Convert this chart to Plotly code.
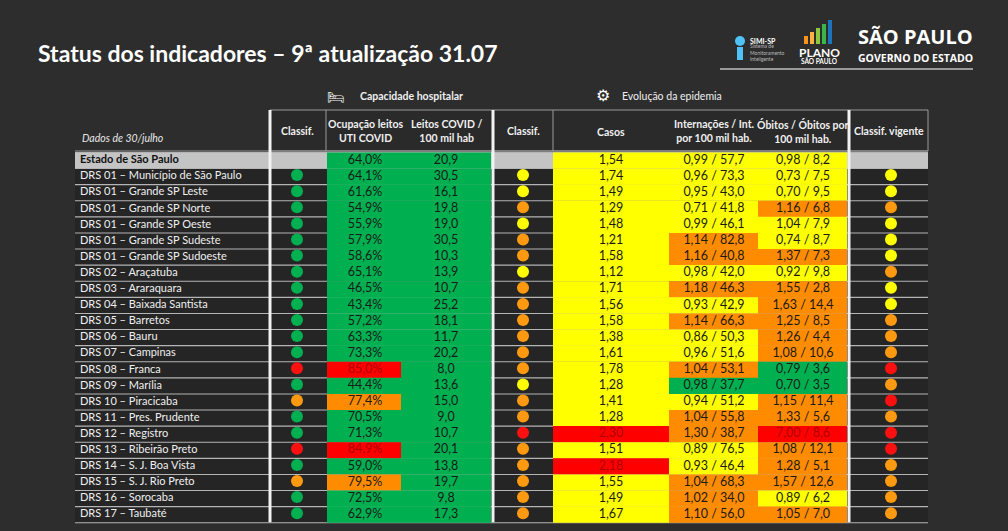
import plotly.graph_objects as go

# ---- data -------------------------------------------------------------
regioes = ['Estado de São Paulo', 'DRS 01 – Município de São Paulo', 'DRS 01 – Grande SP Leste',
           'DRS 01 – Grande SP Norte', 'DRS 01 – Grande SP Oeste', 'DRS 01 – Grande SP Sudeste',
           'DRS 01 – Grande SP Sudoeste', 'DRS 02 – Araçatuba', 'DRS 03 – Araraquara',
           'DRS 04 – Baixada Santista', 'DRS 05 – Barretos', 'DRS 06 – Bauru', 'DRS 07 – Campinas',
           'DRS 08 – Franca', 'DRS 09 – Marília', 'DRS 10 – Piracicaba', 'DRS 11 – Pres. Prudente',
           'DRS 12 – Registro', 'DRS 13 – Ribeirão Preto', 'DRS 14 – S. J. Boa Vista',
           'DRS 15 – S. J. Rio Preto', 'DRS 16 – Sorocaba', 'DRS 17 – Taubaté']
classif_hosp = ['', 'G', 'G', 'G', 'G', 'G', 'G', 'G', 'G', 'G', 'G', 'G', 'G',
                'R', 'G', 'O', 'G', 'G', 'R', 'G', 'O', 'G', 'G']
ocupacao = ['64,0%', '64,1%', '61,6%', '54,9%', '55,9%', '57,9%', '58,6%', '65,1%', '46,5%', '43,4%',
            '57,2%', '63,3%', '73,3%', '85,0%', '44,4%', '77,4%', '70,5%', '71,3%', '84,9%', '59,0%',
            '79,5%', '72,5%', '62,9%']
ocupacao_cor = ['G'] * 13 + ['R', 'G', 'O', 'G', 'G', 'R', 'G', 'O', 'G', 'G']
leitos = ['20,9', '30,5', '16,1', '19,8', '19,0', '30,5', '10,3', '13,9', '10,7', '25,2', '18,1',
          '11,7', '20,2', '8,0', '13,6', '15,0', '9,0', '10,7', '20,1', '13,8', '19,7', '9,8', '17,3']
leitos_cor = ['G'] * 23
classif_epid = ['', 'Y', 'Y', 'O', 'Y', 'O', 'O', 'Y', 'O', 'O', 'O', 'O', 'O',
                'O', 'Y', 'O', 'O', 'R', 'O', 'O', 'O', 'O', 'O']
casos = ['1,54', '1,74', '1,49', '1,29', '1,48', '1,21', '1,58', '1,12', '1,71', '1,56', '1,58',
         '1,38', '1,61', '1,78', '1,28', '1,41', '1,28', '2,30', '1,51', '2,18', '1,55', '1,49', '1,67']
casos_cor = ['Y'] * 17 + ['R', 'Y', 'R', 'Y', 'Y', 'Y']
internacoes = ['0,99 / 57,7', '0,96 / 73,3', '0,95 / 43,0', '0,71 / 41,8', '0,99 / 46,1',
               '1,14 / 82,8', '1,16 / 40,8', '0,98 / 42,0', '1,18 / 46,3', '0,93 / 42,9',
               '1,14 / 66,3', '0,86 / 50,3', '0,96 / 51,6', '1,04 / 53,1', '0,98 / 37,7',
               '0,94 / 51,2', '1,04 / 55,8', '1,30 / 38,7', '0,89 / 76,5', '0,93 / 46,4',
               '1,04 / 68,3', '1,02 / 34,0', '1,10 / 56,0']
internacoes_cor = ['Y', 'Y', 'Y', 'Y', 'Y', 'O', 'O', 'Y', 'O', 'Y', 'O', 'Y', 'Y',
                   'O', 'G', 'Y', 'O', 'O', 'Y', 'Y', 'O', 'O', 'O']
obitos = ['0,98 / 8,2', '0,73 / 7,5', '0,70 / 9,5', '1,16 / 6,8', '1,04 / 7,9', '0,74 / 8,7',
          '1,37 / 7,3', '0,92 / 9,8', '1,55 / 2,8', '1,63 / 14,4', '1,25 / 8,5', '1,26 / 4,4',
          '1,08 / 10,6', '0,79 / 3,6', '0,70 / 3,5', '1,15 / 11,4', '1,33 / 5,6', '7,00 / 8,6',
          '1,08 / 12,1', '1,28 / 5,1', '1,57 / 12,6', '0,89 / 6,2', '1,05 / 7,0']
obitos_cor = ['Y', 'Y', 'Y', 'O', 'Y', 'Y', 'O', 'Y', 'O', 'O', 'O', 'O', 'O',
              'G', 'G', 'O', 'O', 'R', 'O', 'O', 'O', 'Y', 'O']
classif_vigente = ['', 'Y', 'Y', 'O', 'Y', 'Y', 'Y', 'O', 'Y', 'Y', 'O', 'O', 'O',
                   'R', 'O', 'R', 'O', 'R', 'R', 'O', 'O', 'O', 'O']

# ---- style ------------------------------------------------------------
FILL = {'G': '#00b050', 'Y': '#ffff00', 'O': '#ff8c00', 'R': '#ff0000'}
DOT = {'G': '#00b050', 'Y': '#ffff00', 'O': '#ff9a10', 'R': '#ff1010'}
TXT = {'G': '#1a1a1a', 'Y': '#1a1a1a', 'O': '#1a1a1a', 'R': '#b00000'}
FONT = 'Lato'
BG = '#2d2d2d'

ROW0, ROWH, CELLH = 153.0, 16.1, 15.0
X_LEFT, X_RIGHT = 75, 928

def row_y(i):
    return ROW0 + ROWH * i

# column boundaries (x0, x1, text centre)
cols = [
    (ocupacao, ocupacao_cor, 327, 401, 365),
    (leitos, leitos_cor, 401, 491, 446),
    (casos, casos_cor, 553, 669, 611),
    (internacoes, internacoes_cor, 669, 758, 714),
    (obitos, obitos_cor, 758, 847, 803),
]
dots = [(classif_hosp, 297), (classif_epid, 523), (classif_vigente, 891)]

shapes = []
n = len(regioes)
# light separator base under body
shapes.append(dict(type='rect', x0=X_LEFT, x1=X_RIGHT, y0=row_y(0) - 1, y1=row_y(n),
                   fillcolor='#b5b5b5', line_width=0, layer='below'))
# header band
shapes.append(dict(type='rect', x0=270, x1=X_RIGHT, y0=110, y1=151,
                   fillcolor='#2a2a2a', line=dict(color='#9a9a9a', width=1), layer='below'))
shapes.append(dict(type='line', x0=X_LEFT, x1=X_RIGHT, y0=151, y1=151,
                   line=dict(color='#9a9a9a', width=1)))
for i in range(n):
    y0, y1 = row_y(i), row_y(i) + CELLH
    bg = '#c4c4c4' if i == 0 else '#252525'
    shapes.append(dict(type='rect', x0=X_LEFT, x1=X_RIGHT, y0=y0, y1=y1,
                       fillcolor=bg, line_width=0, layer='below'))
    for vals, colr, x0, x1, _ in cols:
        shapes.append(dict(type='rect', x0=x0, x1=x1, y0=y0 - 0.6, y1=y1 + 0.6,
                           fillcolor=FILL[colr[i]], line_width=0, layer='below'))
# thick white column dividers
for xv, w in [(270, 3), (493, 3), (849, 3)]:
    shapes.append(dict(type='line', x0=xv, x1=xv, y0=110, y1=row_y(n) - 1,
                       line=dict(color='#f2f2f2', width=w)))
shapes.append(dict(type='line', x0=326, x1=326, y0=110, y1=151, line=dict(color='#9a9a9a', width=1)))
shapes.append(dict(type='line', x0=553, x1=553, y0=110, y1=151, line=dict(color='#9a9a9a', width=1)))
# logo underline
shapes.append(dict(type='line', x0=720, x1=973, y0=69, y1=69, line=dict(color='#9a9a9a', width=2)))
# plano bars
for k, (c, h) in enumerate([('#f7941d', 8), ('#fbb040', 12), ('#8dc63f', 16), ('#39b54a', 20), ('#1c75bc', 24)]):
    shapes.append(dict(type='rect', x0=804 + k * 6, x1=808 + k * 6, y0=44 - h, y1=44,
                       fillcolor=c, line_width=0))
# simi-sp icon
shapes.append(dict(type='circle', x0=735, x1=745, y0=36, y1=46, fillcolor='#4fc3f7', line_width=0))
shapes.append(dict(type='rect', x0=737, x1=743, y0=47, y1=60, fillcolor='#4fc3f7', line_width=0))

fig = go.Figure()

ys = [row_y(i) + CELLH / 2 for i in range(n)]
# region names
fig.add_trace(go.Scatter(x=[80] * (n - 1), y=ys[1:], mode='text', text=regioes[1:],
                         textposition='middle right',
                         textfont=dict(family=FONT, size=11, color='#f0f0f0'),
                         hoverinfo='skip'))
fig.add_trace(go.Scatter(x=[80], y=[ys[0]], mode='text', text=['<b>' + regioes[0] + '</b>'],
                         textposition='middle right', textfont=dict(family=FONT, size=11, color='#111111'),
                         hoverinfo='skip'))
# values
for vals, colr, x0, x1, xc in cols:
    fig.add_trace(go.Scatter(x=[xc] * n, y=ys, mode='text', text=vals,
                             textfont=dict(family=FONT, size=12.5, color=[TXT[c] for c in colr]),
                             hoverinfo='skip'))
# classification dots
for vals, xc in dots:
    idx = [i for i, v in enumerate(vals) if v]
    fig.add_trace(go.Scatter(x=[xc] * len(idx), y=[ys[i] - 1.5 for i in idx], mode='markers',
                             marker=dict(size=12, color=[DOT[vals[i]] for i in idx], line_width=0),
                             hoverinfo='skip'))

# headers
headers = [
    (297, 131, '<b>Classif.</b>'),
    (365, 131, '<b>Ocupação leitos<br>UTI COVID</b>'),
    (446, 131, '<b>Leitos COVID /<br>100 mil hab</b>'),
    (523, 131, '<b>Classif.</b>'),
    (611, 132, '<b>Casos</b>'),
    (714, 131, '<b>Internações / Int.<br>por 100 mil hab.</b>'),
    (803, 131, '<b>Óbitos / Óbitos por<br>100 mil hab.</b>'),
    (889, 131, '<b>Classif. vigente</b>'),
]
annotations = [dict(x=x, y=y, text=t, showarrow=False, xref='x', yref='y',
                    font=dict(family=FONT, size=10.5, color='#f0f0f0')) for x, y, t in headers]
annotations += [
    dict(x=80, y=138, text='<i>Dados de 30/julho</i>', xanchor='left', showarrow=False,
         font=dict(family=FONT, size=10.5, color='#e8e8e8')),
    dict(x=36, y=53, text='<b>Status dos indicadores – 9ª atualização 31.07</b>', xanchor='left',
         showarrow=False, font=dict(family=FONT, size=23, color='#ffffff')),
    dict(x=325, y=96, text='🛏', xanchor='left', showarrow=False,
         font=dict(size=14, color='#ffffff')),
    dict(x=358, y=96, text='<b>Capacidade hospitalar</b>', xanchor='left', showarrow=False,
         font=dict(family=FONT, size=10.5, color='#f0f0f0')),
    dict(x=594, y=95, text='⚙', xanchor='left', showarrow=False,
         font=dict(size=16, color='#ffffff')),
    dict(x=620, y=96, text='Evolução da epidemia', xanchor='left', showarrow=False,
         font=dict(family=FONT, size=10.5, color='#f0f0f0')),
    dict(x=748, y=41, text='<b>SIMI-SP</b>', xanchor='left', showarrow=False,
         font=dict(family=FONT, size=7, color='#ffffff')),
    dict(x=748, y=52, text='Sistema de<br>Monitoramento<br>Inteligente', xanchor='left',
         align='left', showarrow=False, font=dict(family=FONT, size=5, color='#bbbbbb')),
    dict(x=819, y=52, text='<b>PLANO</b>', showarrow=False,
         font=dict(family=FONT, size=12, color='#ffffff')),
    dict(x=819, y=61, text='<b>SÃO PAULO</b>', showarrow=False,
         font=dict(family=FONT, size=6.5, color='#ffffff')),
    dict(x=915, y=36, text='<b>SÃO PAULO</b>', showarrow=False,
         font=dict(family='Open Sans', size=20, color='#ffffff')),
    dict(x=915, y=58, text='<b>GOVERNO DO ESTADO</b>', showarrow=False,
         font=dict(family='Open Sans', size=10.5, color='#ffffff')),
]

fig.update_layout(
    width=1008, height=531,
    margin=dict(l=0, r=0, t=0, b=0),
    paper_bgcolor=BG, plot_bgcolor=BG,
    showlegend=False,
    shapes=shapes,
    annotations=annotations,
    xaxis=dict(range=[0, 1008], visible=False, fixedrange=True),
    yaxis=dict(range=[531, 0], visible=False, fixedrange=True),
)

fig.write_html("out.html", config={'displayModeBar': False},
               post_script="document.body.style.margin='0';document.body.style.overflow='hidden';")
